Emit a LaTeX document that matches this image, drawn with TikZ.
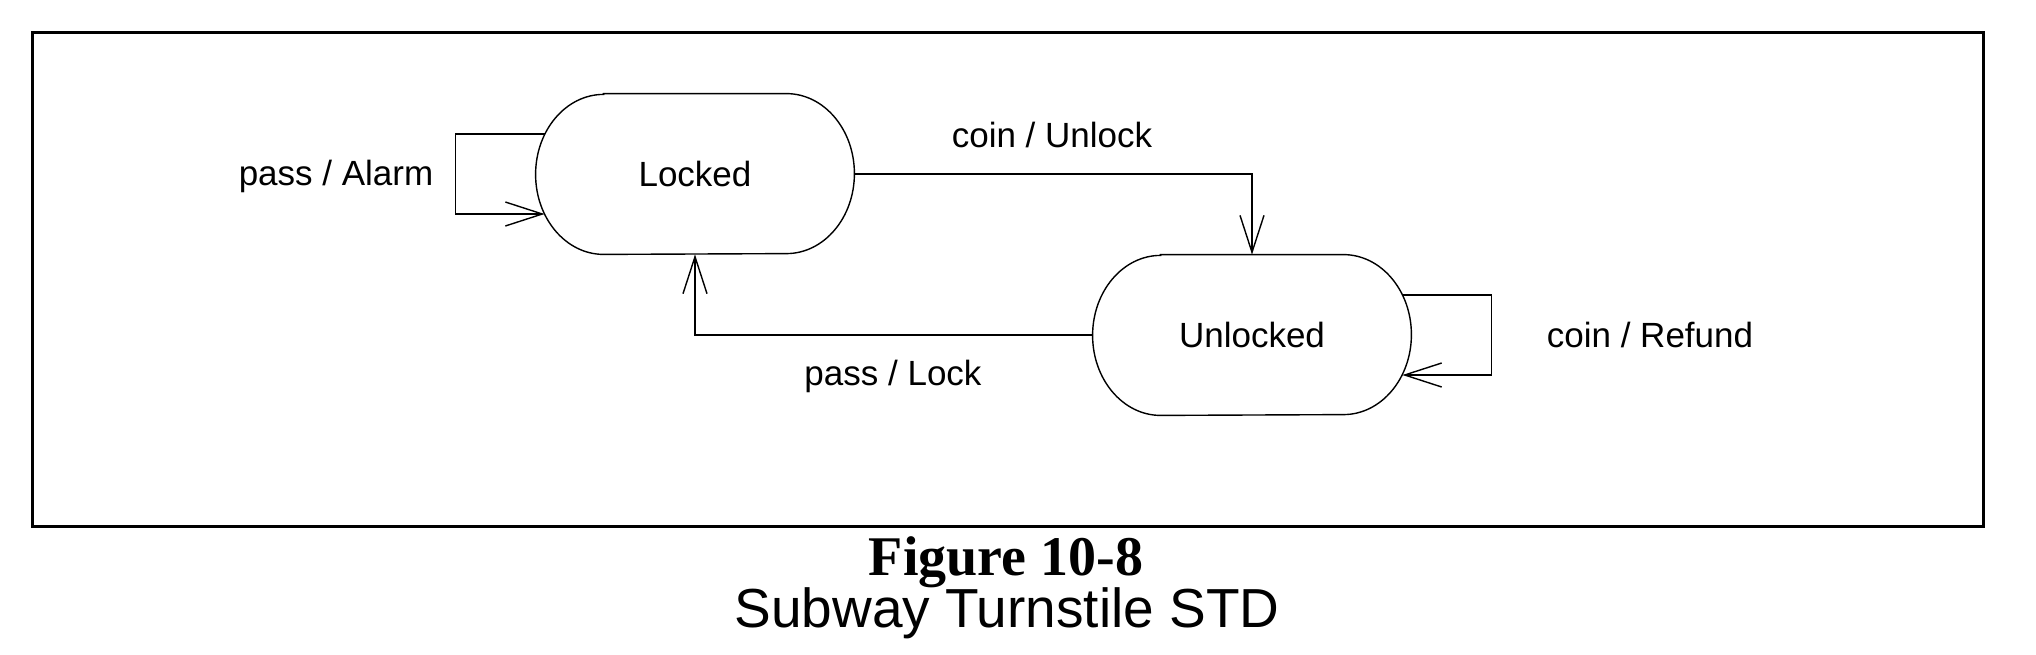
\documentclass[tikz,border=0pt]{standalone}
\usepackage{fontspec}
\setmainfont{Liberation Sans}
\newfontfamily\capserif{Liberation Serif}
\usetikzlibrary{arrows.meta}
\tikzset{
  statebox/.style={rectangle,draw=none,minimum width=159pt,minimum height=80pt,inner sep=0pt,font=\fontsize{17.5}{20}\selectfont},
  outline/.style={draw=black,line width=0.7pt},
  trans/.style={draw=black,line width=0.7pt,-{Straight Barb[length=18.5pt,width=12pt,line width=0.7pt]}},
  lbl/.style={inner sep=0pt,font=\fontsize{17.5}{20}\selectfont},
  frame/.style={draw=black,line width=1.5pt}
}
\newcommand{\stateoutline}[1]{%
  \draw[outline] ([xshift=34pt]#1.north west) -- ([xshift=-34pt]#1.north east)
    arc[start angle=90,end angle=-90,x radius=34pt,y radius=40pt]
    -- ([xshift=34pt]#1.south west)
    arc[start angle=270,end angle=90,x radius=34pt,y radius=40pt] -- cycle;}
\begin{document}
\begin{tikzpicture}[x=0.5pt,y=0.5pt]
\useasboundingbox (0,0) rectangle (2036,-654);
\draw[frame] (32,-32) rectangle (1983,-526);

\node[statebox] (L) at (695,-174) {Locked};
\node[statebox] (U) at (1252,-335) {Unlocked};
\stateoutline{L}
\stateoutline{U}

\draw[trans] (L.east) -| (U.north);
\draw[trans] (U.west) -| (L.south);
\draw[trans] ([shift={(4.5pt,20pt)}]L.west) -- ++(-44.5pt,0pt) |- ([shift={(4.5pt,-20pt)}]L.west);
\draw[trans] ([shift={(-4.5pt,20pt)}]U.east) -- ++(44.5pt,0pt) |- ([shift={(-4.5pt,-20pt)}]U.east);

\node[lbl] (la) at (336,-176) {pass / Alarm};
\node[lbl] (lu) at (1052,-135) {coin / Unlock};
\node[lbl] (ll) at (893,-376) {pass / Lock};
\node[lbl] (lr) at (1650,-335) {coin / Refund};

\node[inner sep=0pt,font=\capserif\bfseries\fontsize{28}{30}\selectfont] (cap1) at (1006,-562) {Figure 10-8};
\node[inner sep=0pt,font=\fontsize{27.5}{30}\selectfont] (cap2) at (1007,-613) {Subway Turnstile STD};
\end{tikzpicture}
\end{document}
